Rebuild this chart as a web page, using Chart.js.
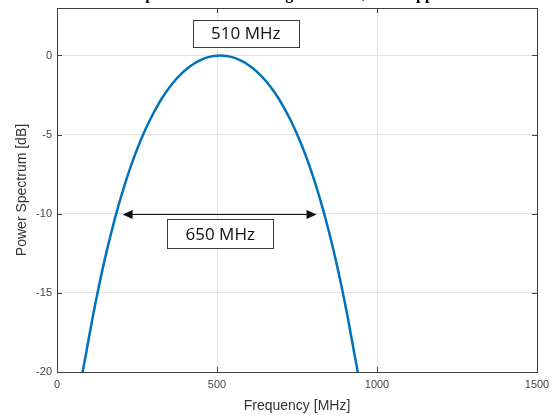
<!DOCTYPE html>
<html lang="en">
<head>
    <meta charset="UTF-8">
    <title>Power Spectrum</title>
    <script src="https://cdn.jsdelivr.net/npm/chart.js"></script>
    <style>
        body { margin: 0; background: #fff; }
        #wrap { width: 556px; height: 415px; position: relative; }
    </style>
</head>
<body>
<div id="wrap"><canvas id="spec"></canvas></div>

<script>
    // values
    const freqMHz = [80, 90, 110, 130, 150, 170, 190, 210, 230, 250, 270, 290, 310, 330, 350, 370, 390, 410, 430, 450, 470, 490,
                     510,
                     530, 550, 570, 590, 610, 630, 650, 670, 690, 710, 730, 750, 770, 790, 810, 830, 850, 870, 890, 910, 930, 940];
    const powerDb = [-20, -18.93, -16.70, -14.67, -12.82, -11.15, -9.63, -8.27, -7.04, -5.94, -4.96, -4.09, -3.32, -2.64, -2.06, -1.55, -1.13, -0.78, -0.49, -0.28, -0.12, -0.03,
                     0,
                     -0.03, -0.12, -0.28, -0.49, -0.78, -1.13, -1.55, -2.06, -2.64, -3.32, -4.09, -4.96, -5.94, -7.04, -8.27, -9.63, -11.15, -12.82, -14.67, -16.70, -18.93, -20];
    const xTicks = [0, 500, 1000, 1500];
    const yTicks = [-20, -15, -10, -5, 0];
    const peakLabel = '510 MHz';
    const widthLabel = '650 MHz';
    const titleText = 'Power Spectrum of Radar Signal Model, with Approximation';

    const AXIS = '#404040';
    const GRID = '#e3e3e3';

    // boxes / arrow placed in data units
    const peakBox = { x: 590, y: 1.4, w: 106, h: 27 };
    const widthBox = { x: 510, y: -11.27, w: 106, h: 29 };
    const arrow = { x0: 205, x1: 811, y: -10 };

    function box(ctx, cx, cy, w, h, text) {
        ctx.save();
        const l = Math.round(cx - w / 2) + 0.5, t = Math.round(cy - h / 2) + 0.5;
        ctx.fillStyle = '#fff';
        ctx.fillRect(l, t, w, h);
        ctx.strokeStyle = '#3a3a3a';
        ctx.lineWidth = 1;
        ctx.strokeRect(l, t, w, h);
        ctx.fillStyle = '#111';
        ctx.font = '17px "Open Sans", sans-serif';
        ctx.textAlign = 'center';
        ctx.textBaseline = 'middle';
        ctx.fillText(text, cx, cy + 1);
        ctx.restore();
    }

    const frame = {
        id: 'frame',
        afterDatasetsDraw(chart) {
            const { ctx, chartArea: a, scales: { x, y } } = chart;
            ctx.save();
            // box round the axes
            ctx.strokeStyle = AXIS;
            ctx.lineWidth = 1;
            ctx.strokeRect(Math.round(a.left) + 0.5, Math.round(a.top) + 0.5,
                Math.round(a.right - a.left), Math.round(a.bottom - a.top));
            // inward ticks on all sides
            ctx.beginPath();
            xTicks.forEach(v => {
                const px = Math.round(x.getPixelForValue(v)) + 0.5;
                ctx.moveTo(px, a.bottom); ctx.lineTo(px, a.bottom - 5);
                ctx.moveTo(px, a.top); ctx.lineTo(px, a.top + 5);
            });
            yTicks.forEach(v => {
                const py = Math.round(y.getPixelForValue(v)) + 0.5;
                ctx.moveTo(a.left, py); ctx.lineTo(a.left + 5, py);
                ctx.moveTo(a.right, py); ctx.lineTo(a.right - 5, py);
            });
            ctx.stroke();

            // double arrow at -10 dB
            const ay = Math.round(y.getPixelForValue(arrow.y)) + 0.5;
            const ax0 = x.getPixelForValue(arrow.x0);
            const ax1 = x.getPixelForValue(arrow.x1);
            ctx.strokeStyle = '#111';
            ctx.fillStyle = '#111';
            ctx.beginPath();
            ctx.moveTo(ax0 + 8, ay); ctx.lineTo(ax1 - 8, ay);
            ctx.stroke();
            ctx.beginPath();
            ctx.moveTo(ax0, ay); ctx.lineTo(ax0 + 10, ay - 4.5); ctx.lineTo(ax0 + 10, ay + 4.5); ctx.closePath();
            ctx.moveTo(ax1, ay); ctx.lineTo(ax1 - 10, ay - 4.5); ctx.lineTo(ax1 - 10, ay + 4.5); ctx.closePath();
            ctx.fill();

            box(ctx, x.getPixelForValue(peakBox.x), y.getPixelForValue(peakBox.y), peakBox.w, peakBox.h, peakLabel);
            box(ctx, x.getPixelForValue(widthBox.x), y.getPixelForValue(widthBox.y), widthBox.w, widthBox.h, widthLabel);

            // title sits mostly above the top of the picture
            ctx.fillStyle = '#000';
            ctx.font = 'bold 16px "Liberation Serif", "Times New Roman", serif';
            ctx.textAlign = 'center';
            ctx.textBaseline = 'alphabetic';
            ctx.fillText(titleText, (a.left + a.right) / 2 + 2, -1.5);
            ctx.restore();
        }
    };

    new Chart(document.getElementById('spec'), {
        type: 'scatter',
        data: {
            datasets: [{
                data: freqMHz.map((f, i) => ({ x: f, y: powerDb[i] })),
                showLine: true,
                borderColor: '#0072BD',
                borderWidth: 2.5,
                pointRadius: 0,
                cubicInterpolationMode: 'monotone',
                fill: false
            }]
        },
        options: {
            responsive: true,
            maintainAspectRatio: false,
            animation: false,
            layout: { padding: { left: 0, right: 19, top: 8, bottom: 0 } },
            plugins: { legend: { display: false }, tooltip: { enabled: false } },
            scales: {
                x: {
                    type: 'linear',
                    min: 0,
                    max: 1500,
                    afterBuildTicks: s => { s.ticks = xTicks.map(v => ({ value: v })); },
                    afterFit: s => { s.height = 43; s.paddingLeft = 0; s.paddingRight = 0; },
                    grid: { color: GRID, drawTicks: false },
                    border: { display: false },
                    ticks: {
                        padding: 6,
                        color: '#444',
                        font: { family: 'Liberation Sans, Arial, sans-serif', size: 11 },
                        maxRotation: 0,
                        callback: v => String(v)
                    },
                    title: {
                        display: true,
                        text: 'Frequency [MHz]',
                        color: '#333',
                        font: { family: 'Liberation Sans, Arial, sans-serif', size: 14 },
                        padding: { top: 0, bottom: 0 }
                    }
                },
                y: {
                    type: 'linear',
                    min: -20,
                    max: 3,
                    afterBuildTicks: s => { s.ticks = yTicks.map(v => ({ value: v })); },
                    afterFit: s => { s.width = 57; s.paddingTop = 0; s.paddingBottom = 0; },
                    grid: { color: GRID, drawTicks: false },
                    border: { display: false },
                    ticks: {
                        padding: 5,
                        color: '#444',
                        font: { family: 'Liberation Sans, Arial, sans-serif', size: 11 },
                        callback: v => String(v)
                    },
                    title: {
                        display: true,
                        text: 'Power Spectrum [dB]',
                        color: '#333',
                        font: { family: 'Liberation Sans, Arial, sans-serif', size: 14 },
                        padding: { top: 14, bottom: 0 }
                    }
                }
            }
        },
        plugins: [frame]
    });
</script>
</body>
</html>
